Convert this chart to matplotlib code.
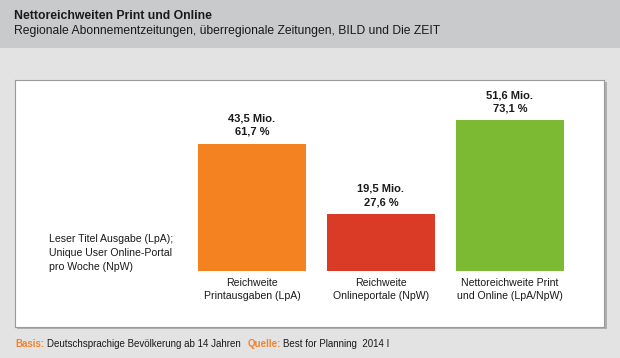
import matplotlib.pyplot as plt
from matplotlib.patches import Rectangle

plt.rcParams['font.family'] = ['Liberation Sans', 'DejaVu Sans']

# data
categories = ["Reichweite\nPrintausgaben (LpA)",
              "Reichweite\nOnlineportale (NpW)",
              "Nettoreichweite Print\nund Online (LpA/NpW)"]
mio = ["43,5", "19,5", "51,6"]
percent = [61.7, 27.6, 73.1]
colors = ["#F58220", "#D93B27", "#7DBA33"]

W, H = 620, 358
fig = plt.figure(figsize=(W / 100, H / 100), dpi=100)
fig.patch.set_facecolor("#E3E3E3")

# header band
fig.patches.append(Rectangle((0, 1 - 48 / H), 1, 48 / H, transform=fig.transFigure,
                             facecolor="#C9CACC", edgecolor="none", zorder=-2))
fig.text(14 / W, 1 - 16 / H, "Nettoreichweiten Print und Online", fontsize=8.8,
         fontweight="bold", color="#1a1a1a", va="center", ha="left")
fig.text(14 / W, 1 - 31 / H,
         "Regionale Abonnementzeitungen, überregionale Zeitungen, BILD und Die ZEIT",
         fontsize=8.7, color="#1a1a1a", va="center", ha="left")

# shadow of panel
fig.patches.append(Rectangle((17 / W, 1 - 329 / H), 590 / W, 247 / H, transform=fig.transFigure,
                             facecolor="#B0B0B0", edgecolor="none", zorder=-1))

# panel axes
ax = fig.add_axes([15 / W, 1 - 327 / H, 589 / W, 247 / H])
ax.set_zorder(1)
ax.set_facecolor("white")
for s in ax.spines.values():
    s.set_color("#9A9A9A")
    s.set_linewidth(0.8)
ax.set_xticks([])
ax.set_yticks([])

x = list(range(len(categories)))
ax.bar(x, percent, width=0.837, color=colors)
ax.set_xlim(-1.837, 2.729)
ax.set_ylim(-27.2, 92.7)

for xi, m, p in zip(x, mio, percent):
    ax.text(xi, p + 3.4, m + " Mio.\n" + ("%.1f" % p).replace(".", ",") + " %",
            ha="center", va="bottom", fontsize=8, fontweight="bold",
            color="#1a1a1a", linespacing=1.4)
for xi, c in zip(x, categories):
    ax.text(xi, -3.5, c, ha="center", va="top", fontsize=7.6, color="#1a1a1a",
            linespacing=1.3)

ax.text(34 / 589, 1 - 173 / 247,
        "Leser Titel Ausgabe (LpA);\nUnique User Online-Portal\npro Woche (NpW)",
        transform=ax.transAxes, ha="left", va="center", fontsize=7.6,
        color="#1a1a1a", linespacing=1.45)

# footer
fy = 1 - 344 / H
orange = "#F5822A"
fig.text(15 / W, fy, "Basis:", color=orange, fontweight="bold", fontsize=7, va="center")
fig.text(47 / W, fy, "Deutschsprachige Bevölkerung ab 14 Jahren", color="#1a1a1a",
         fontsize=7, va="center")
fig.text(248 / W, fy, "Quelle:", color=orange, fontweight="bold", fontsize=7, va="center")
fig.text(283 / W, fy, "Best for Planning  2014 I", color="#1a1a1a", fontsize=7, va="center")

fig.savefig("out.png", dpi=100, facecolor=fig.get_facecolor())
